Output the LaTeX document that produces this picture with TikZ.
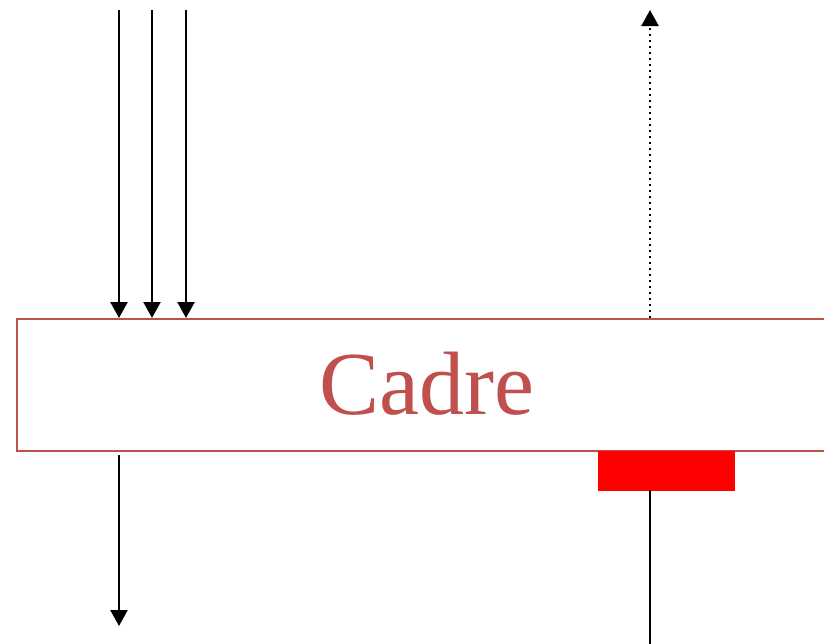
\documentclass[tikz,border=0pt]{standalone}
\usepackage{fontspec}
\setmainfont{Liberation Serif}
\usetikzlibrary{arrows.meta}
\definecolor{cadrered}{HTML}{C0504D}
\begin{document}
\begin{tikzpicture}[x=1pt,y=-1pt,
  arr/.style={line width=2.4pt,-{Triangle[length=16pt,width=17pt]}},
  frame/.style={draw=cadrered,line width=2pt,fill=white}]
\useasboundingbox (0,0) rectangle (824,643);
\node[frame,minimum width=830pt,minimum height=132pt,anchor=north west,inner sep=0pt] (cadre) at (16,318) {};
\node[text=cadrered,font=\fontsize{90}{90}\selectfont,anchor=base] (lbl) at (427,414) {Cadre};
\node[fill=red,draw=red,minimum width=136pt,minimum height=39pt,anchor=north west,inner sep=0pt] (rbox) at (598,451) {};
\coordinate (a1) at (119,10);
\coordinate (a2) at (152,10);
\coordinate (a3) at (186,10);
\coordinate (b1) at (119,318);
\coordinate (b2) at (152,318);
\coordinate (b3) at (186,318);
\draw[arr] (a1) -- (b1);
\draw[arr] (a2) -- (b2);
\draw[arr] (a3) -- (b3);
\coordinate (d0) at (650,318);
\coordinate (d1) at (650,10);
\draw[line width=2.4pt,dash pattern=on 2pt off 4pt,-{Triangle[length=16pt,width=17pt]}] (d0) -- (d1);
\coordinate (o0) at (119,455);
\coordinate (o1) at (119,626);
\draw[arr] (o0) -- (o1);
\coordinate (l1) at (650,645);
\draw[line width=2.4pt] (rbox.south -| l1) -- (l1);
\end{tikzpicture}
\end{document}
